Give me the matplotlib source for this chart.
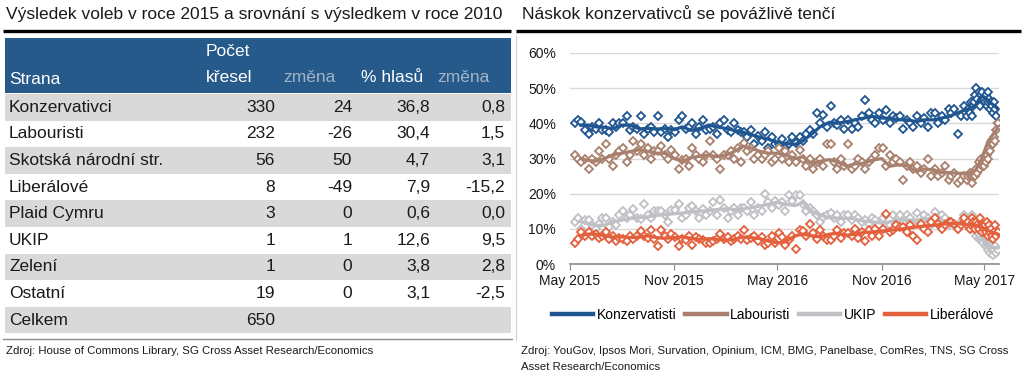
import numpy as np
import pandas as pd
import matplotlib.pyplot as plt
import matplotlib.dates as mdates
from matplotlib.patches import Rectangle

plt.rcParams['font.family'] = ['Liberation Sans', 'DejaVu Sans']

# --- table data ---
parties = ["Konzervativci", "Labouristi", "Skotská národní str.", "Liberálové",
           "Plaid Cymru", "UKIP", "Zelení", "Ostatní", "Celkem"]
seats = ["330", "232", "56", "8", "3", "1", "1", "19", "650"]
seat_change = ["24", "-26", "50", "-49", "0", "1", "0", "0", ""]
vote_share = ["36,8", "30,4", "4,7", "7,9", "0,6", "12,6", "3,8", "3,1", ""]
vote_change = ["0,8", "1,5", "3,1", "-15,2", "0,0", "9,5", "2,8", "-2,5", ""]

# --- poll data ---
poll_dates = [
    "2015-05-09", "2015-05-15", "2015-05-21", "2015-05-27",
    "2015-06-03", "2015-06-09", "2015-06-15", "2015-06-21", "2015-06-27",
    "2015-07-03", "2015-07-09", "2015-07-15", "2015-07-21", "2015-07-27",
    "2015-08-03", "2015-08-09", "2015-08-15", "2015-08-21", "2015-08-27",
    "2015-09-03", "2015-09-09", "2015-09-15", "2015-09-21", "2015-09-27",
    "2015-10-03", "2015-10-09", "2015-10-15", "2015-10-21", "2015-10-27",
    "2015-11-03", "2015-11-09", "2015-11-15", "2015-11-21", "2015-11-27",
    "2015-12-03", "2015-12-09", "2015-12-15", "2015-12-21", "2015-12-27",
    "2016-01-03", "2016-01-09", "2016-01-15", "2016-01-21", "2016-01-27",
    "2016-02-03", "2016-02-09", "2016-02-15", "2016-02-21", "2016-02-27",
    "2016-03-03", "2016-03-09", "2016-03-15", "2016-03-21", "2016-03-27",
    "2016-04-03", "2016-04-09", "2016-04-15", "2016-04-21", "2016-04-27",
    "2016-05-03", "2016-05-09", "2016-05-15", "2016-05-21", "2016-05-27",
    "2016-06-03", "2016-06-09", "2016-06-15", "2016-06-21", "2016-06-27",
    "2016-07-03", "2016-07-09", "2016-07-15", "2016-07-21", "2016-07-27",
    "2016-08-03", "2016-08-09", "2016-08-15", "2016-08-21", "2016-08-27",
    "2016-09-03", "2016-09-09", "2016-09-15", "2016-09-21", "2016-09-27",
    "2016-10-03", "2016-10-09", "2016-10-15", "2016-10-21", "2016-10-27",
    "2016-11-03", "2016-11-09", "2016-11-15", "2016-11-21", "2016-11-27",
    "2016-12-03", "2016-12-09", "2016-12-15", "2016-12-21", "2016-12-27",
    "2017-01-03", "2017-01-09", "2017-01-15", "2017-01-21", "2017-01-27",
    "2017-02-03", "2017-02-09", "2017-02-15", "2017-02-21", "2017-02-27",
    "2017-03-03", "2017-03-09", "2017-03-15", "2017-03-21", "2017-03-27",
    "2017-04-01", "2017-04-03", "2017-04-05", "2017-04-07", "2017-04-09",
    "2017-04-11", "2017-04-13", "2017-04-15", "2017-04-17", "2017-04-19",
    "2017-04-21", "2017-04-23", "2017-04-25", "2017-04-27", "2017-04-29",
    "2017-05-01", "2017-05-02", "2017-05-04", "2017-05-05", "2017-05-07",
    "2017-05-08", "2017-05-10", "2017-05-11", "2017-05-13", "2017-05-14",
    "2017-05-16", "2017-05-18", "2017-05-20", "2017-05-22", "2017-05-25",
]
con = [40, 41, 40.5, 38,
       37, 39, 38.5, 40, 38,  38, 37.5, 40, 39, 40,  40, 42, 38, 39, 38.5,
       42, 37, 38.5, 39, 37.5,  42, 37.5, 38.5, 36, 38,  37.5, 41, 42, 38.5, 39,
       40, 37, 39, 41, 38,
       38.5, 39, 37, 40, 41,  38, 37.5, 40, 38, 37.5,  37.5, 36, 38, 34, 36.5,
       35, 37.5, 33, 36, 34,  34, 35.5, 33, 34, 36,  34.5, 36, 35, 37, 38,
       37, 42.9, 40, 42.4, 39,  44.9, 40, 39.5, 41, 38.5,  41, 38.5, 40, 39, 42,
       46.6, 42.8, 41, 40, 43,  41, 43.8, 40, 42, 41.5,  42, 38.5, 41, 40, 39,
       42, 40, 41.5, 39, 43,  43, 40, 42, 41, 44,  43, 44, 37, 42, 45,
       42, 44, 43, 46, 42, 45, 46, 48, 50, 47, 49, 45, 48, 49, 47,
       47, 46, 48, 45, 49, 46, 47, 44, 46, 45, 43, 46, 44, 42, 40]
lab = [31, 30, 29, 30,
       27, 30, 29, 32, 30,  34, 30, 28, 31, 32,  33, 29, 31, 35, 32,
       34, 31, 33, 30, 32,  32, 33.5, 31, 30, 32.5,  31, 27, 29.5, 30, 28,
       33, 31, 30, 29, 31,
       35, 31, 30, 27, 31,  31, 32, 30, 33, 29,  34.4, 32, 33, 30, 31,
       30, 31, 32, 29, 30,  33, 30, 32, 29, 31,  29, 32.5, 30, 28, 30,
       27, 29, 30, 28, 34,  34, 29, 27, 30, 28,  34, 27, 28, 30, 29,
       27, 29, 30, 31, 33,  33, 28, 31, 29, 30,  29, 24, 28, 29, 27,
       28, 26, 27, 30, 25,  27, 25, 26, 28, 24,  25, 26, 23, 24, 25,
       24, 25, 26, 25, 23, 25, 26, 25, 27, 26, 29, 27, 30, 28, 29,
       28, 30, 29, 31, 30, 32, 33, 32, 34, 35, 34, 36, 35, 38, 40]
ukip = [12, 13, 10, 12.5,
        12.5, 11, 10, 11.5, 13,  13, 10.5, 12, 11, 14,  15, 13, 14, 15.5, 13,
        12.9, 17, 14, 13, 15,  15, 15, 14, 12, 15.4,  15.4, 17.2, 13, 14, 16,
        16.4, 15, 13, 15.5, 14,
        15, 17.7, 14, 18.2, 16,  13, 15, 16, 14, 16,  16, 15, 17.7, 14, 16,
        15, 20, 17.5, 16, 18,  16.8, 17.5, 15, 19.6, 18,  19.6, 19.6, 17, 15, 16,
        15, 14, 12, 13.5, 14,  14.4, 13, 14, 12, 14,  14, 12.5, 14, 13, 12,
        12.5, 11.5, 13, 12.5, 11,  13, 14, 11, 14, 12,  14, 12, 14, 13, 11,
        14.4, 12, 14, 13, 11,  14.9, 12, 14, 13, 11,  12, 11, 10, 12, 14,
        12, 11, 13, 10, 14, 11, 10, 9.6, 8, 9, 7, 8, 6.8, 7.5, 6,
        8, 7, 5, 6, 4, 6, 5, 3, 5, 4, 2.5, 4, 5, 3, 4]
lib = [6, 7, 9, 8,
       9, 8, 8.5, 7.5, 8,  9, 7, 8, 6.5, 7.5,  7, 6.5, 8, 7, 8,
       9.5, 8, 7.5, 9.6, 7,  5, 9.6, 8, 7, 8.5,  7.7, 5, 7, 6.8, 8,
       5.4, 7.7, 7, 6.8, 6,
       6, 6.5, 7, 8.5, 7,  7.7, 6.5, 7, 8, 7,  9.6, 6.8, 7.5, 8, 6.5,
       7.7, 5.4, 6, 8, 6,  8.7, 7.7, 5.5, 6.8, 8,  4.2, 9.6, 9.3, 8, 11.3,
       8.7, 7, 9.6, 8, 6.8,  6.8, 8, 9.6, 7.5, 8.7,  8.7, 8, 10, 7.5, 9,
       6.5, 9.6, 8, 10, 8,  10, 14.2, 9, 9.6, 11,  10.5, 10.5, 9, 11, 8,
       6.8, 11.5, 10, 9, 12,  13.2, 11.5, 10, 11, 12,  12, 11.5, 10, 11, 13,
       11, 12, 10, 11, 13, 12, 11, 10, 12, 11, 10, 13, 11, 9, 11,
       10, 11, 9, 12, 10, 8, 11, 9, 10, 8, 7, 9, 11, 8, 9]

# --- trend (rolling average) lines ---
trend_dates = [
    "2015-05-20",
    "2015-06-01", "2015-06-15", "2015-07-01", "2015-07-15", "2015-08-01", "2015-08-15",
    "2015-09-01", "2015-09-15", "2015-10-01", "2015-10-15", "2015-11-01", "2015-11-15",
    "2015-12-01", "2015-12-15",
    "2016-01-01", "2016-01-15", "2016-02-01", "2016-02-15", "2016-03-01", "2016-03-15",
    "2016-04-01", "2016-04-15", "2016-05-01", "2016-05-15", "2016-06-01", "2016-06-15",
    "2016-07-01", "2016-07-15", "2016-08-01", "2016-08-15", "2016-09-01", "2016-09-15",
    "2016-10-01", "2016-10-15", "2016-11-01", "2016-11-15", "2016-12-01", "2016-12-15",
    "2017-01-01", "2017-01-15", "2017-02-01", "2017-02-15", "2017-03-01", "2017-03-15",
    "2017-04-01", "2017-04-15", "2017-04-24", "2017-05-01", "2017-05-08", "2017-05-15",
    "2017-05-26",
]
con_trend = [39.5,
             39.5, 39, 38.9, 38.5, 39.5, 39.5, 38.4, 38.6, 38.4, 38.5, 38.2, 39, 38, 38.5,
             39.5, 39, 38.5, 38, 37.5, 36.8, 36, 35.5, 34.5, 34.3, 34, 35,
             37, 39, 40.3, 40, 40.5, 41, 41.5, 42, 41.5, 41.5, 41, 41,
             40.5, 41, 41, 41.5, 42, 43, 44, 45, 47.5, 47.5, 46.5, 45.5, 44]
lab_trend = [30,
             29.5, 29.2, 30, 31, 31.5, 32, 32.5, 32, 31.5, 31.5, 30, 29.2, 30.3, 30.6,
             31, 30.5, 31, 32, 33.5, 33, 32, 31.5, 31.5, 31, 30, 30.5,
             28.5, 29.2, 29.7, 29, 27.8, 28.5, 28.7, 29.5, 30, 27.8, 28.2, 28,
             26.3, 27, 26.8, 26, 26, 25.8, 25.8, 26.5, 29, 32, 35, 36.5, 39]
ukip_trend = [12,
              11.5, 11, 11, 12, 12.5, 13, 13.2, 13.4, 13.8, 14, 14.3, 14.5, 14.8, 15,
              15.2, 15.5, 15.7, 15.5, 15.7, 16, 16.5, 17, 17.6, 17, 16.6, 17.5,
              15, 13.9, 13.2, 13, 13, 12.8, 12.2, 12, 11.6, 12, 12.5, 12.5,
              12.5, 12.8, 13, 12.5, 12, 11.5, 11, 10, 8.5, 7, 5.5, 4.8, 4.5]
lib_trend = [8,
             8.5, 8.5, 8, 7.7, 7.7, 7.5, 7.7, 8, 7.5, 7.3, 7.5, 7.7, 7.3, 7,
             7.2, 7, 6.8, 7, 7.7, 7.5, 7.2, 6.5, 6, 6.3, 8, 8.5,
             8, 7.7, 8.5, 8.7, 8.2, 8.5, 9, 9.1, 9.4, 9.6, 9.8, 10.2,
             10.5, 10.8, 11, 11.3, 11.5, 11.5, 11.2, 11, 10.5, 10, 9.5, 9, 8.5]

series_names = ["Konzervatisti", "Labouristi", "UKIP", "Liberálové"]
series_colors = ["#1f5591", "#a8806d", "#bfc0c4", "#e4603c"]

W, H = 1024, 377
fig = plt.figure(figsize=(W / 100, H / 100), dpi=100)

# overlay in pixel coordinates for table and decoration
ov = fig.add_axes([0, 0, 1, 1])
ov.set_xlim(0, W)
ov.set_ylim(H, 0)
ov.axis("off")

blue = "#265a8b"
txt = "#1a1a1a"

ov.text(6, 14, "Výsledek voleb v roce 2015 a srovnání s výsledkem v roce 2010",
        fontsize=12.5, color=txt, va="center", ha="left")
ov.text(522, 14, "Náskok konzervativců se povážlivě tenčí",
        fontsize=12.5, color=txt, va="center", ha="left")
ov.plot([3, 511], [31, 31], color="black", lw=2.4, solid_capstyle="butt")
ov.plot([516, 1021], [31, 31], color="black", lw=2.4, solid_capstyle="butt")

# header
ov.add_patch(Rectangle((5, 38), 506, 55, facecolor=blue, edgecolor="none"))
ov.text(9, 80, "Strana", color="white", fontsize=12.5, va="center")
ov.text(206, 52, "Počet", color="white", fontsize=12.5, va="center")
ov.text(206, 78, "křesel", color="white", fontsize=12.5, va="center")
ov.text(283, 78, "změna", color="#a3b3c6", fontsize=12.5, va="center")
ov.text(361, 78, "% hlasů", color="white", fontsize=12.5, va="center")
ov.text(437, 78, "změna", color="#a3b3c6", fontsize=12.5, va="center")

row_top, row_h = 94, 26.6
col_right = [275, 352, 430, 505]
for i, name in enumerate(parties):
    y0 = row_top + i * row_h
    if i % 2 == 0:
        ov.add_patch(Rectangle((5, y0), 506, row_h, facecolor="#d9d9d9", edgecolor="none"))
    yc = y0 + row_h / 2
    ov.text(9, yc, name, fontsize=12.5, color=txt, va="center")
    for xr, col in zip(col_right, [seats, seat_change, vote_share, vote_change]):
        ov.text(xr, yc, col[i], fontsize=12.5, color=txt, va="center", ha="right")

ov.plot([3, 512], [339, 339], color="#8c8c8c", lw=1)
ov.plot([516, 516], [36, 340], color="#d0d0d0", lw=0.8)
ov.text(6, 351, "Zdroj: House of Commons Library, SG Cross Asset Research/Economics",
        fontsize=8.2, color=txt, va="center")
ov.text(521, 351, "Zdroj: YouGov, Ipsos Mori, Survation, Opinium, ICM, BMG, Panelbase, ComRes, TNS, SG Cross",
        fontsize=8.2, color=txt, va="center")
ov.text(521, 367, "Asset Research/Economics", fontsize=8.2, color=txt, va="center")

# chart
ax = fig.add_axes([570 / W, 1 - 264 / H, 429 / W, 211 / H])
pd_dates = pd.to_datetime(poll_dates)
td = pd.to_datetime(trend_dates)
for vals, tr, name, c in zip([con, lab, ukip, lib],
                             [con_trend, lab_trend, ukip_trend, lib_trend],
                             series_names, series_colors):
    ax.plot(pd_dates, vals, linestyle="none", marker="D", markersize=4.3,
            markerfacecolor="white", markeredgecolor=c, markeredgewidth=1.3)
    ax.plot(td, tr, color=c, lw=2.3, label=name, solid_joinstyle="round")

ax.set_ylim(0, 60)
ax.set_xlim(pd.Timestamp("2015-05-01"), pd.Timestamp("2017-05-27"))
ax.set_yticks(range(0, 61, 10))
ax.set_yticklabels([f"{v}%" for v in range(0, 61, 10)])
ticks = pd.to_datetime(["2015-05-01", "2015-11-01", "2016-05-01", "2016-11-01", "2017-05-01"])
ax.set_xticks(ticks)
ax.set_xticklabels(["May 2015", "Nov 2015", "May 2016", "Nov 2016", "May 2017"])
ax.grid(axis="y", color="#d9d9d9", lw=1)
ax.set_axisbelow(True)
for s in ["top", "right", "left"]:
    ax.spines[s].set_visible(False)
ax.spines["bottom"].set_color("#8c8c8c")
ax.spines["bottom"].set_linewidth(1.2)
ax.tick_params(axis="y", length=0, pad=10, labelsize=10, labelcolor=txt)
ax.tick_params(axis="x", length=4, color="#8c8c8c", pad=3, labelsize=10, labelcolor=txt)

handles, labels = ax.get_legend_handles_labels()
leg = fig.legend(handles, labels, loc="center", bbox_to_anchor=(773 / W, 1 - 315 / H),
                 ncol=4, frameon=False, fontsize=10, handlelength=3.0,
                 handletextpad=0.25, columnspacing=0.6)
for lh in leg.get_lines():
    lh.set_linewidth(3.2)

fig.savefig("out.png", dpi=100)
